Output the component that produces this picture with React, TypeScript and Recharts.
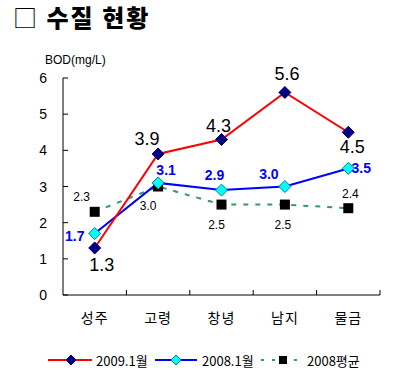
import { LineChart, Line, XAxis, YAxis, Legend, LabelList } from "recharts"

const sites = ["성주", "고령", "창녕", "남지", "물금"]
const jan2009 = [1.3, 3.9, 4.3, 5.6, 4.5]
const jan2008 = [1.7, 3.1, 2.9, 3.0, 3.5]
const avg2008 = [2.3, 3.0, 2.5, 2.5, 2.4]
const yTicks = [0, 1, 2, 3, 4, 5, 6]
const seriesNames = ["2009.1월", "2008.1월", "2008평균"]

const rows = sites.map((site, i) => ({
    site,
    jan2009: jan2009[i],
    jan2008: jan2008[i],
    avg2008: avg2008[i],
}))

// label nudges per point (dx, dy from the marker)
const nudge2009 = [[7, 17], [-11, -15], [-3, -13], [2, -18], [4, 15]]
const nudge2008 = [[-20, 2], [8, -13], [-7, -15], [-16, -13], [13, 0]]
const nudgeAvg = [[-13, -15], [-10, 19], [-5, 20], [-2, 20], [2, -14]]

const NUM_FONT = "'Liberation Sans', Arial, sans-serif"
const KR_FONT = "'Noto Sans CJK KR', sans-serif"
const BAND = 317 / 5

function Diamond({ cx, cy, r, fill, stroke }: any) {
    return (
        <path
            d={`M${cx},${cy - r} L${cx + r},${cy} L${cx},${cy + r} L${cx - r},${cy} Z`}
            fill={fill}
            stroke={stroke}
            strokeWidth={1}
        />
    )
}

function Square({ cx, cy, s }: any) {
    return <rect x={cx - s / 2} y={cy - s / 2} width={s} height={s} fill="#000" />
}

function makeLabel(nudges: number[][], style: any) {
    return (props: any) => {
        const { x, y, value, index } = props
        const [dx, dy] = nudges[index]
        return (
            <text
                x={x + dx}
                y={y + dy}
                textAnchor="middle"
                dominantBaseline="central"
                {...style}
            >
                {Number(value).toFixed(1)}
            </text>
        )
    }
}

function YTick(props: any) {
    const { x, y, payload } = props
    return (
        <g>
            <line x1={x} y1={y} x2={x + 5} y2={y} stroke="#000" />
            <text x={x - 16} y={y} textAnchor="end" dominantBaseline="central"
                fontFamily={NUM_FONT} fontSize={14} fill="#000">
                {payload.value}
            </text>
        </g>
    )
}

function XTick(props: any) {
    const { x, y, payload } = props
    return (
        <g>
            <line x1={x + BAND / 2} y1={y} x2={x + BAND / 2} y2={y - 5} stroke="#000" />
            <text x={x} y={y + 22} textAnchor="middle" dominantBaseline="central"
                fontFamily={KR_FONT} fontSize={14} fill="#000" letterSpacing={1}>
                {payload.value}
            </text>
        </g>
    )
}

function LegendBox() {
    return (
        <svg width={394} height={20}>
            <line x1={48} y1={10} x2={92} y2={10} stroke="#FF0000" strokeWidth={2} />
            <Diamond cx={71} cy={10} r={5} fill="#000080" stroke="#000080" />
            <text x={96} y={10} dominantBaseline="central" fontFamily={KR_FONT} fontSize={13}>{seriesNames[0]}</text>
            <line x1={155} y1={10} x2={197} y2={10} stroke="#0000FF" strokeWidth={2} />
            <Diamond cx={176} cy={10} r={5} fill="#00FFFF" stroke="#008080" />
            <text x={202} y={10} dominantBaseline="central" fontFamily={KR_FONT} fontSize={13}>{seriesNames[1]}</text>
            <line x1={261} y1={10} x2={304} y2={10} stroke="#339966" strokeWidth={2} strokeDasharray="3 8" />
            <Square cx={283} cy={10} s={8} />
            <text x={307} y={10} dominantBaseline="central" fontFamily={KR_FONT} fontSize={13}>{seriesNames[2]}</text>
        </svg>
    )
}

export default function App() {
    return (
        <div style={{ position: "absolute", left: 0, top: 0, width: 394, height: 383, background: "#fff" }}>
            <div style={{
                position: "absolute", left: 13, top: 1, fontFamily: KR_FONT,
                fontWeight: 900, fontSize: 24, lineHeight: "32px", whiteSpace: "pre",
                letterSpacing: 2,
            }}>
                <span style={{ fontWeight: 400 }}>□</span> 수질 현황
            </div>
            <div style={{
                position: "absolute", left: 45, top: 52, fontFamily: NUM_FONT,
                fontSize: 12, lineHeight: "16px",
            }}>
                BOD(mg/L)
            </div>
            <LineChart
                width={394}
                height={383}
                data={rows}
                margin={{ top: 78, right: 14, bottom: 48, left: 0 }}
                style={{ position: "absolute", left: 0, top: 0 }}
            >
                <XAxis
                    dataKey="site"
                    height={40}
                    padding={{ left: BAND / 2, right: BAND / 2 }}
                    axisLine={{ stroke: "#000" }}
                    tickLine={false}
                    tickSize={0}
                    tickMargin={0}
                    tick={<XTick />}
                    interval={0}
                />
                <YAxis
                    width={63}
                    domain={[0, 6]}
                    ticks={yTicks}
                    axisLine={{ stroke: "#000" }}
                    tickLine={false}
                    tickSize={0}
                    tickMargin={0}
                    tick={<YTick />}
                    interval={0}
                />
                <Legend
                    layout="horizontal"
                    verticalAlign="middle"
                    align="center"
                    content={<LegendBox />}
                    wrapperStyle={{ position: "absolute", left: 0, top: 350, width: 394, height: 20 }}
                />
                <Line
                    dataKey="avg2008"
                    name={seriesNames[2]}
                    stroke="#339966"
                    strokeWidth={2}
                    strokeDasharray="5 7"
                    isAnimationActive={false}
                    dot={(p: any) => <Square key={`a${p.index}`} cx={p.cx} cy={p.cy} s={10} />}
                >
                    <LabelList dataKey="avg2008" content={makeLabel(nudgeAvg, { fontFamily: NUM_FONT, fontSize: 12, fill: "#000" })} />
                </Line>
                <Line
                    dataKey="jan2008"
                    name={seriesNames[1]}
                    stroke="#0000FF"
                    strokeWidth={2}
                    isAnimationActive={false}
                    dot={(p: any) => <Diamond key={`b${p.index}`} cx={p.cx} cy={p.cy} r={6} fill="#00FFFF" stroke="#008080" />}
                >
                    <LabelList dataKey="jan2008" content={makeLabel(nudge2008, { fontFamily: NUM_FONT, fontSize: 14, fontWeight: 700, fill: "#0000FF" })} />
                </Line>
                <Line
                    dataKey="jan2009"
                    name={seriesNames[0]}
                    stroke="#FF0000"
                    strokeWidth={2}
                    isAnimationActive={false}
                    dot={(p: any) => <Diamond key={`c${p.index}`} cx={p.cx} cy={p.cy} r={6} fill="#000080" stroke="#000080" />}
                >
                    <LabelList dataKey="jan2009" content={makeLabel(nudge2009, { fontFamily: NUM_FONT, fontSize: 18, fill: "#000" })} />
                </Line>
            </LineChart>
        </div>
    )
}
